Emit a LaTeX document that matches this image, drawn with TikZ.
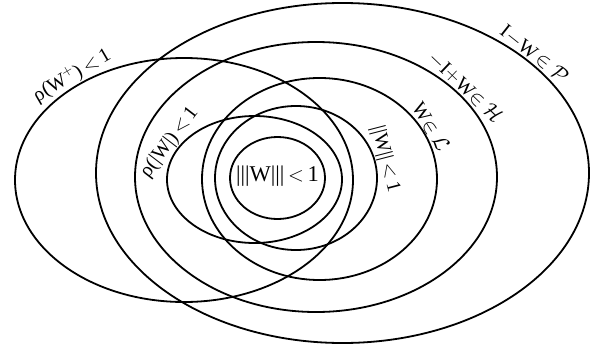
\documentclass[tikz,border=0pt]{standalone}
\usepackage{fontspec}
\setmainfont{Liberation Serif}
\tikzset{
  ell/.style={line width=1.8pt},
  lab/.style={anchor=south, inner sep=1.2pt, font=\fontsize{20}{22}\selectfont},
  mid/.style={inner sep=0pt, font=\fontsize{22.5}{24}\selectfont}
}
\newcommand\curvelabel[7]{%
  \pgfmathsetmacro\clX{#2+#4*cos(#6)}%
  \pgfmathsetmacro\clY{349-#3+#5*sin(#6)}%
  \pgfmathsetmacro\clA{atan2(-#5*cos(#6), #4*sin(#6))}%
  \node[lab, rotate=\clA] (#1) at (\clX pt,\clY pt) {#7};}
\begin{document}
\begin{tikzpicture}[x=1pt,y=1pt]
\useasboundingbox (0,0) rectangle (602,349);
% ellipses (screen centre y converted: Y = 349 - y)
\draw[ell] (342.5,176) ellipse [x radius=246.5pt, y radius=170pt];
\draw[ell] (316,172) ellipse [x radius=181pt, y radius=135pt];
\draw[ell] (184,169) ellipse [x radius=169pt, y radius=122pt];
\draw[ell] (319.5,170) ellipse [x radius=117.5pt, y radius=101pt];
\draw[ell] (296,171) ellipse [x radius=81pt, y radius=72pt];
\draw[ell] (254.5,169.5) ellipse [x radius=87.5pt, y radius=63.5pt];
\draw[ell] (277.5,171) ellipse [x radius=47.5pt, y radius=41pt];
% labels
\curvelabel{lP}{342.5}{173}{246.5}{170}{41}{I$-$W\,$\in\mathcal{P}$}
\curvelabel{lH}{316}{177}{181}{135}{38}{$-$I$+$W$\in\mathcal{H}$}
\curvelabel{lL}{319.5}{179}{117.5}{101}{28}{W$\in\mathcal{L}$}
\curvelabel{lN}{296}{178}{81}{72}{13}{||W||\,$<$\,1}
\curvelabel{lR}{254.5}{179.5}{87.5}{63.5}{151}{ρ(|W|)\,$<$\,1}
\curvelabel{lRp}{184}{180}{169}{122}{129}{ρ(W$^{+}$)\,$<$\,1}
\node[mid] (lT) at (277.5,173) {|||W|||\,$<$\,1};
\end{tikzpicture}
\end{document}
